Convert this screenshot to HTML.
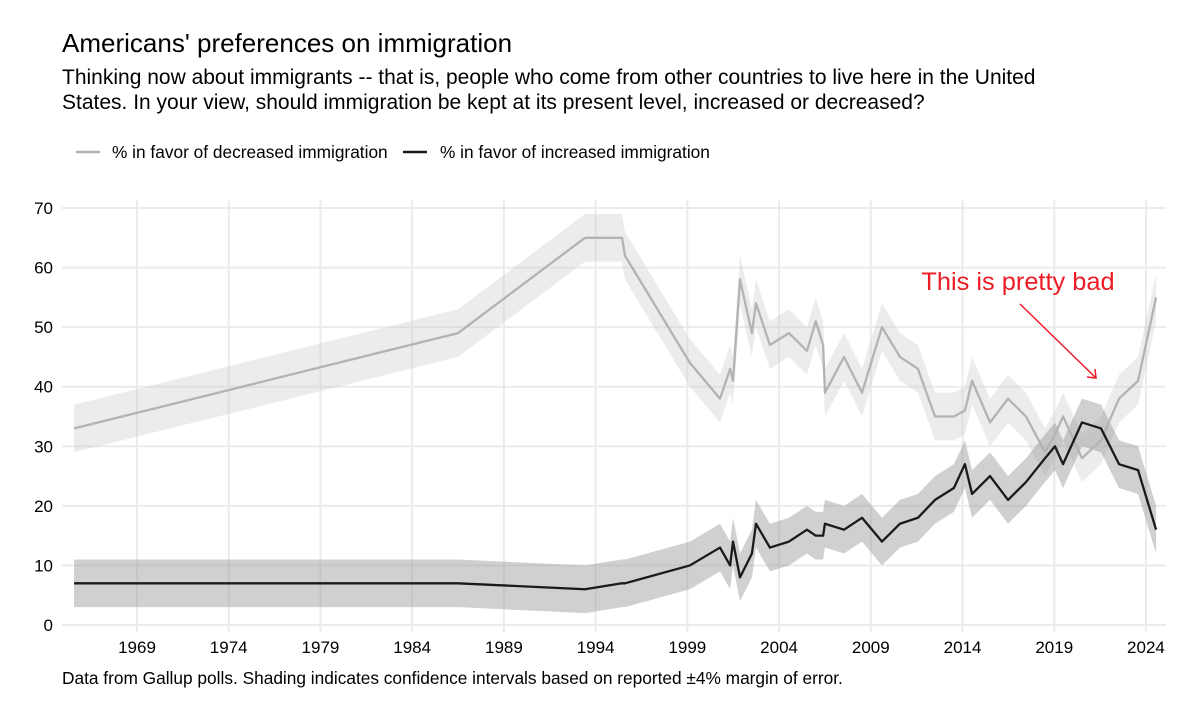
<!DOCTYPE html>
<html><head><meta charset="utf-8"><style>
body{margin:0;background:#fff;}
svg text{font-family:"Liberation Sans",Arial,sans-serif;}
</style></head><body>
<svg id="c" width="1200" height="720" xmlns="http://www.w3.org/2000/svg">
<text x="62" y="52" font-size="26" fill="#000">Americans' preferences on immigration</text>
<text x="62" y="84" font-size="21" fill="#000">Thinking now about immigrants -- that is, people who come from other countries to live here in the United</text>
<text x="62" y="109" font-size="21" fill="#000">States. In your view, should immigration be kept at its present level, increased or decreased?</text>
<g>
<line x1="76" y1="152" x2="100" y2="152" stroke="#b3b3b3" stroke-width="2.5"/>
<text x="112" y="158" font-size="17.3">% in favor of decreased immigration</text>
<line x1="403" y1="152" x2="427" y2="152" stroke="#1a1a1a" stroke-width="2.5"/>
<text x="440" y="158" font-size="17.3">% in favor of increased immigration</text>
</g>
<g id="grid"></g><g id="ribbons"></g><g id="lines"></g><g id="axes"></g>
<text x="1018" y="290" font-size="25.4" fill="#ee1c25" text-anchor="middle">This is pretty bad</text>
<g stroke="#ee1c25" stroke-width="1.5" fill="none">
<line x1="1020" y1="304" x2="1096" y2="378"/>
<polyline points="1087,377 1096,378 1095,369"/>
</g>
<text x="62" y="684" font-size="17.3" fill="#000">Data from Gallup polls. Shading indicates confidence intervals based on reported ±4% margin of error.</text>
</svg>
<script>
const years=[1965.57,1986.5,1993.42,1995.44,1995.6,1999.14,2000.78,2001.33,2001.49,2001.87,2002.52,2002.74,2003.5,2004.54,2005.52,2006.0,2006.4,2006.5,2007.54,2008.52,2009.61,2010.59,2011.57,2012.5,2013.53,2014.13,2014.52,2015.5,2016.48,2017.46,2018.5,2019.04,2019.48,2020.51,2021.55,2022.53,2023.57,2024.55];
const decreased=[33,49,65,65,62,44,38,43,41,58,49,54,47,49,46,51,47,39,45,39,50,45,43,35,35,36,41,34,38,35,29,32,35,28,31,38,41,55];
const increased=[7,7,6,7,7,10,13,10,14,8,12,17,13,14,16,15,15,17,16,18,14,17,18,21,23,27,22,25,21,24,28,30,27,34,33,27,26,16];
const xTicks=[1969,1974,1979,1984,1989,1994,1999,2004,2009,2014,2019,2024];
const yTicks=[0,10,20,30,40,50,60,70];
const margin=4;
const NS='http://www.w3.org/2000/svg';
const X=y=>137+(y-1969)*18.345;
const Y=v=>625-v*5.957;
function mk(tag,attrs,parent){const e=document.createElementNS(NS,tag);for(const k in attrs)e.setAttribute(k,attrs[k]);document.getElementById(parent).appendChild(e);return e;}
xTicks.forEach(t=>{
 const g=mk('line',{x1:X(t),x2:X(t),y1:200,y2:632,stroke:'#ebebeb','stroke-width':2},'grid');
 
 
 const l=mk('text',{x:X(t),y:653,'font-size':17,'text-anchor':'middle',fill:'#000'},'axes');l.textContent=t;
 
 
});
yTicks.forEach(t=>{
 const g=mk('line',{x1:62,x2:1166,y1:Y(t),y2:Y(t),stroke:'#ebebeb','stroke-width':2},'grid');
 
 
 const l=mk('text',{x:53,y:Y(t)+6,'font-size':17,'text-anchor':'end',fill:'#000'},'axes');l.textContent=t;
 
 
});
function ribbon(vals,fill,name){
 const up=years.map((y,i)=>X(y)+','+Y(vals[i]+margin));
 const dn=years.map((y,i)=>X(y)+','+Y(vals[i]-margin)).reverse();
 const p=mk('polygon',{points:up.concat(dn).join(' '),fill:fill},'ribbons');
 
 
}
function line(vals,stroke,name){
 const p=mk('polyline',{points:years.map((y,i)=>X(y)+','+Y(vals[i])).join(' '),fill:'none',stroke:stroke,'stroke-width':2.3,'stroke-linejoin':'round'},'lines');
 
 
}
ribbon(decreased,'rgba(200,200,200,0.35)','ribbon-decreased');
ribbon(increased,'rgba(150,150,150,0.45)','ribbon-increased');
line(decreased,'#b3b3b3','line-decreased');
line(increased,'#1a1a1a','line-increased');
</script>
</body></html>
